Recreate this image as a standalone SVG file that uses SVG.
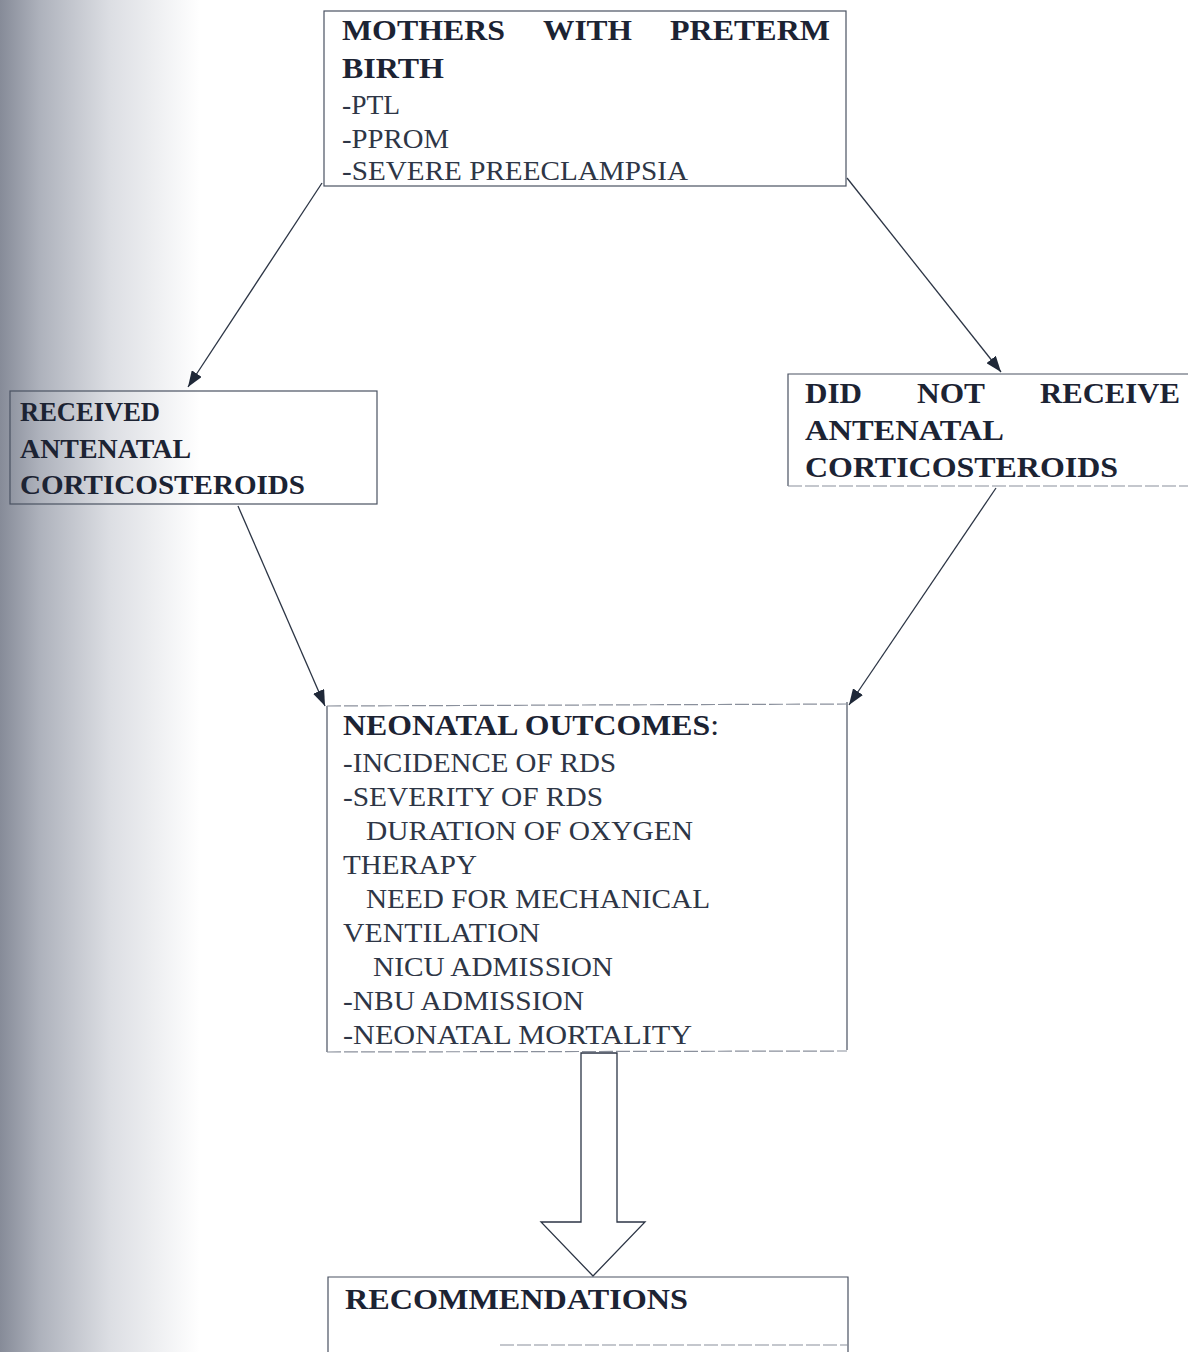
<svg xmlns="http://www.w3.org/2000/svg" width="1188" height="1352" viewBox="0 0 1188 1352">
<defs>
<linearGradient id="shade" x1="0" y1="0" x2="1" y2="0">
<stop offset="0" stop-color="#868b98"/>
<stop offset="0.2" stop-color="#aeb2bc"/>
<stop offset="0.55" stop-color="#dcdee3"/>
<stop offset="1" stop-color="#ffffff"/>
</linearGradient>
<marker id="ah" viewBox="0 0 16 12" refX="16" refY="6" markerWidth="16" markerHeight="12" markerUnits="userSpaceOnUse" orient="auto">
<path d="M0,0 L16,6 L0,12 Z" fill="#1f2838"/>
</marker>
<style>
.box{fill:none;stroke:#4a5262;stroke-width:1.2}
.faint{fill:none;stroke:#8a909c;stroke-width:1.2;stroke-dasharray:14 3}
.con{stroke:#2c3545;stroke-width:1.3;fill:none}
.b{font-weight:bold;fill:#1c2333}
.r{fill:#2e3646}
</style>
</defs>
<rect x="0" y="0" width="1188" height="1352" fill="#ffffff"/>
<rect x="0" y="0" width="200" height="1352" fill="url(#shade)"/>

<g id="connectors">
<line class="con" x1="322" y1="183" x2="188" y2="387" marker-end="url(#ah)"/>
<line class="con" x1="847" y1="178" x2="1001" y2="372" marker-end="url(#ah)"/>
<line class="con" x1="238" y1="506" x2="325" y2="706" marker-end="url(#ah)"/>
<line class="con" x1="996" y1="488" x2="849" y2="705" marker-end="url(#ah)"/>
<path class="con" d="M581,1053 L617,1053 L617,1222 L645,1222 L593,1276 L541,1222 L581,1222 Z" fill="#ffffff"/>
</g>

<g font-family="Liberation Serif, DejaVu Serif, serif">
<g id="mothers">
<rect class="box" x="324" y="11" width="522" height="175"/>
<text class="b" font-size="30" x="342" y="40" textLength="163" lengthAdjust="spacingAndGlyphs">MOTHERS</text>
<text class="b" font-size="30" x="543" y="40" textLength="89" lengthAdjust="spacingAndGlyphs">WITH</text>
<text class="b" font-size="30" x="670" y="40" textLength="160" lengthAdjust="spacingAndGlyphs">PRETERM</text>
<text class="b" font-size="30" x="342" y="78" textLength="102" lengthAdjust="spacingAndGlyphs">BIRTH</text>
<text class="r" font-size="27" x="342" y="114" textLength="58" lengthAdjust="spacingAndGlyphs">-PTL</text>
<text class="r" font-size="27" x="342" y="148" textLength="107" lengthAdjust="spacingAndGlyphs">-PPROM</text>
<text class="r" font-size="27" x="342" y="180" textLength="346" lengthAdjust="spacingAndGlyphs">-SEVERE PREECLAMPSIA</text>
</g>

<g id="received">
<rect class="box" x="10" y="391" width="367" height="113"/>
<text class="b" font-size="27" x="20" y="421" textLength="140" lengthAdjust="spacingAndGlyphs">RECEIVED</text>
<text class="b" font-size="27" x="20" y="458" textLength="171" lengthAdjust="spacingAndGlyphs">ANTENATAL</text>
<text class="b" font-size="27" x="20" y="494" textLength="285" lengthAdjust="spacingAndGlyphs">CORTICOSTEROIDS</text>
</g>

<g id="notreceived">
<path class="box" d="M1188,374 L788,374 L788,486"/>
<path class="faint" d="M788,486 L1188,486"/>
<text class="b" font-size="29" x="805" y="403" textLength="57" lengthAdjust="spacingAndGlyphs">DID</text>
<text class="b" font-size="29" x="917" y="403" textLength="68" lengthAdjust="spacingAndGlyphs">NOT</text>
<text class="b" font-size="29" x="1040" y="403" textLength="140" lengthAdjust="spacingAndGlyphs">RECEIVE</text>
<text class="b" font-size="29" x="805" y="440" textLength="199" lengthAdjust="spacingAndGlyphs">ANTENATAL</text>
<text class="b" font-size="29" x="805" y="477" textLength="313" lengthAdjust="spacingAndGlyphs">CORTICOSTEROIDS</text>
</g>

<g id="outcomes">
<path class="box" d="M327,706 L327,1052 M847,702 L847,1050"/>
<path class="faint" d="M327,706 L847,704 M327,1052 L847,1051"/>
<text class="b" font-size="30" x="343" y="735" textLength="376" lengthAdjust="spacingAndGlyphs">NEONATAL OUTCOMES<tspan font-weight="normal">:</tspan></text>
<text class="r" font-size="27" x="343" y="772" textLength="273" lengthAdjust="spacingAndGlyphs">-INCIDENCE OF RDS</text>
<text class="r" font-size="27" x="343" y="806" textLength="260" lengthAdjust="spacingAndGlyphs">-SEVERITY OF RDS</text>
<text class="r" font-size="27" x="366" y="840" textLength="327" lengthAdjust="spacingAndGlyphs">DURATION OF OXYGEN</text>
<text class="r" font-size="27" x="343" y="874" textLength="134" lengthAdjust="spacingAndGlyphs">THERAPY</text>
<text class="r" font-size="27" x="366" y="908" textLength="344" lengthAdjust="spacingAndGlyphs">NEED FOR MECHANICAL</text>
<text class="r" font-size="27" x="343" y="942" textLength="197" lengthAdjust="spacingAndGlyphs">VENTILATION</text>
<text class="r" font-size="27" x="373" y="976" textLength="240" lengthAdjust="spacingAndGlyphs">NICU ADMISSION</text>
<text class="r" font-size="27" x="343" y="1010" textLength="241" lengthAdjust="spacingAndGlyphs">-NBU ADMISSION</text>
<text class="r" font-size="27" x="343" y="1044" textLength="349" lengthAdjust="spacingAndGlyphs">-NEONATAL MORTALITY</text>
</g>

<g id="recommendations">
<path class="box" d="M328,1352 L328,1277 L848,1277 L848,1352"/>
<path class="faint" d="M500,1345 L848,1345"/>
<text class="b" font-size="30" x="345" y="1309" textLength="343" lengthAdjust="spacingAndGlyphs">RECOMMENDATIONS</text>
</g>
</g>
</svg>
